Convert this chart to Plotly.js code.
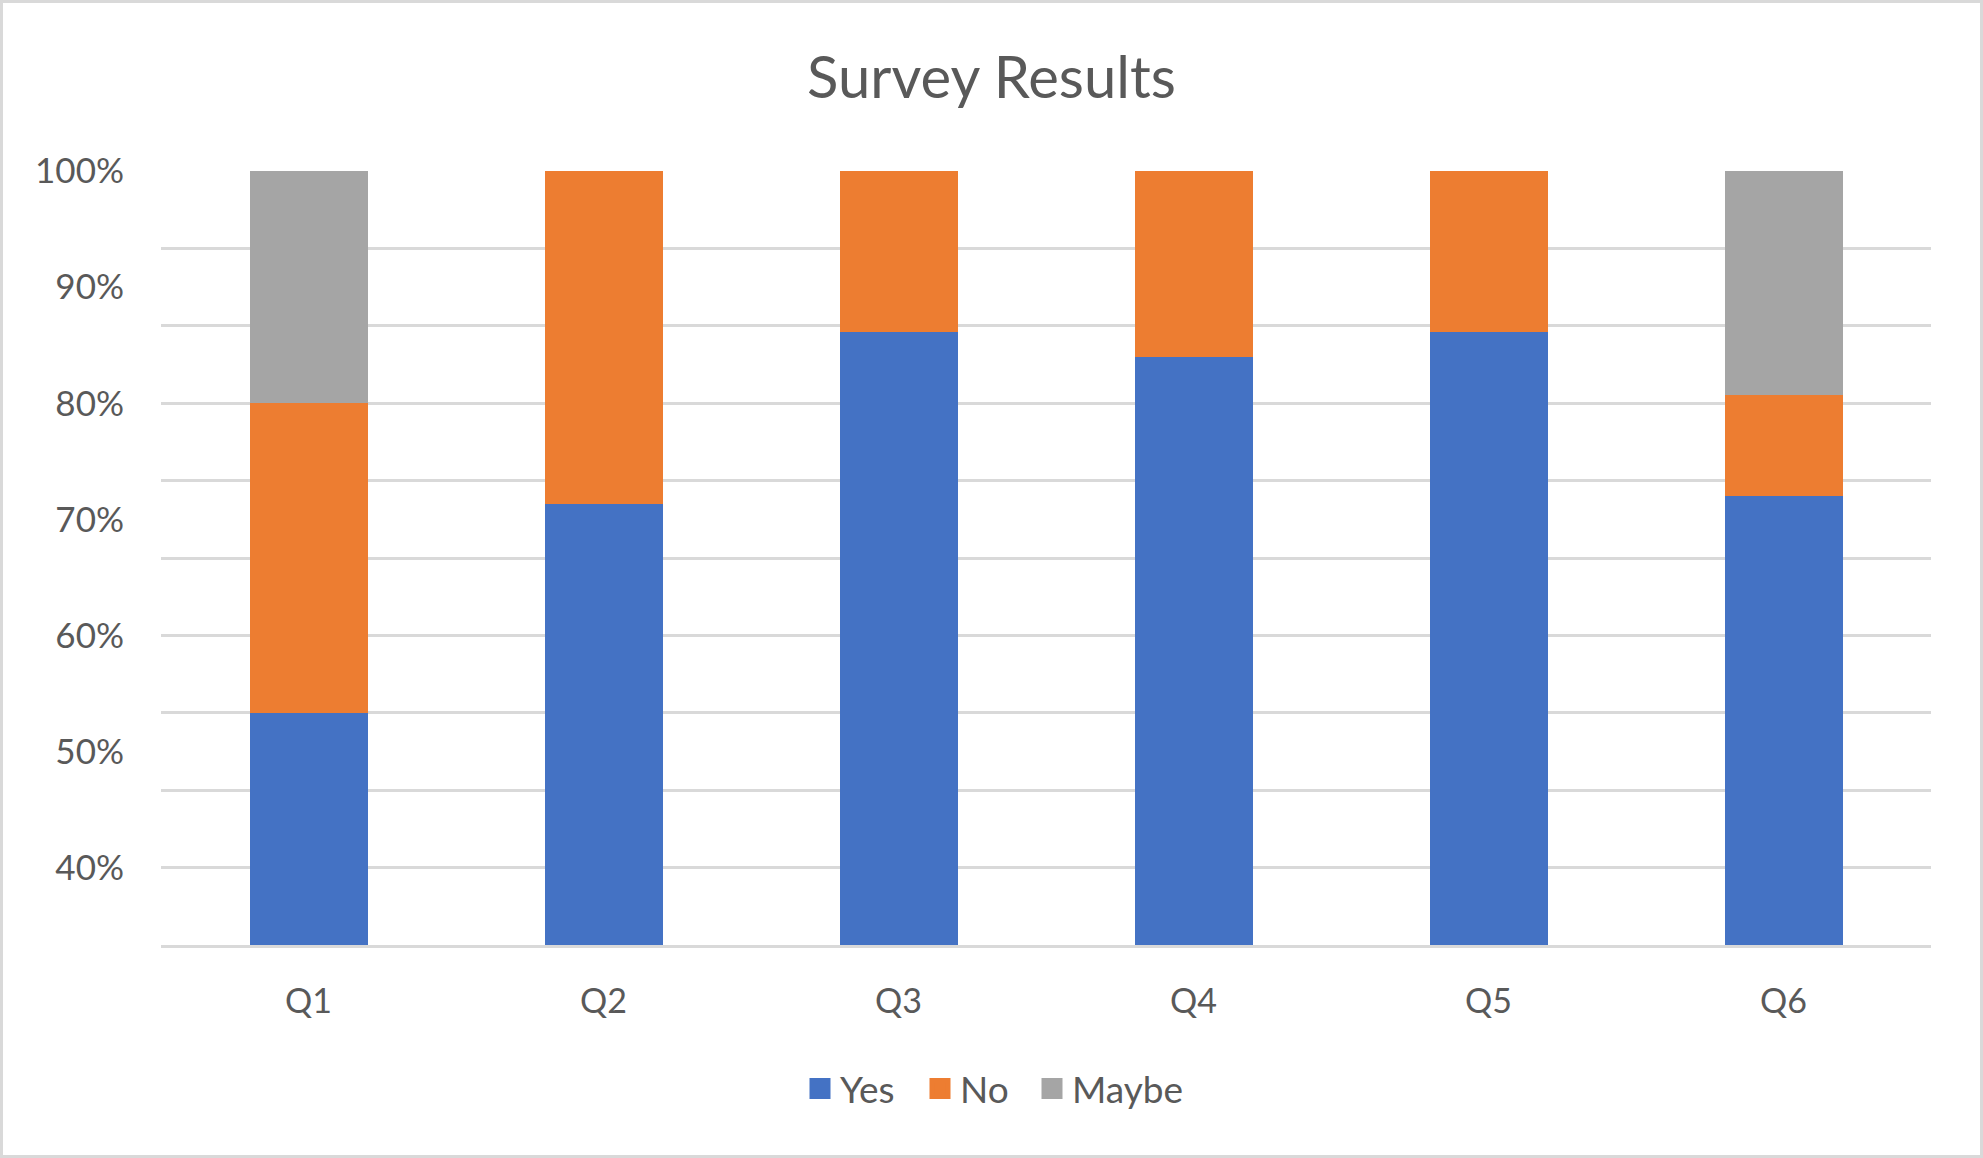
<!DOCTYPE html>
<html>
<head>
<meta charset="utf-8">
<script src="https://cdn.plot.ly/plotly-3.0.1.min.js"></script>
<style>
  html, body { margin: 0; padding: 0; background: #ffffff; }
  #wrap { position: relative; width: 1983px; height: 1158px; }
  #chart { width: 1983px; height: 1158px; }
  #frame { position: absolute; left: 0; top: 0; width: 1983px; height: 1158px;
           box-sizing: border-box; border: 3px solid #d9d9d9; pointer-events: none; }
</style>
</head>
<body>
<div id="wrap"><div id="chart"></div><div id="frame"></div></div>
<script>
// ---- data (percent of respondents) ----
const questions = ["Q1", "Q2", "Q3", "Q4", "Q5", "Q6"];
const yesVals   = [53.3, 71.3, 86.1, 84.0, 86.1, 72.0];
const noVals    = [26.7, 28.7, 13.9, 16.0, 13.9, 8.7];
const maybeVals = [20.0, 0.0, 0.0, 0.0, 0.0, 19.3];
const seriesNames = ["Yes", "No", "Maybe"];
const tickValues = [40, 50, 60, 70, 80, 90, 100];
const tickLabels = ["40%", "50%", "60%", "70%", "80%", "90%", "100%"];

// ---- styling ----
const colors = ["#4472C4", "#ED7D31", "#A5A5A5"];
const textColor = "#595959";
const gridColor = "#d9d9d9";
const fontFam = "Lato, 'Open Sans', sans-serif";
const yMin = 100 / 3, yMax = 100;
const legendX = [800, 920, 1032];   // pixel x of each legend entry
const legendNames = ["legend", "legend2", "legend3"];

// gridlines: 10 equal divisions of the visible range
const gridVals = [];
for (let k = 0; k <= 10; k++) gridVals.push(yMax - k * (yMax - yMin) / 10);

const seriesVals = [yesVals, noVals, maybeVals];
const traces = [];
seriesVals.forEach((vals, i) => {
  traces.push({
    type: "bar", x: questions, y: vals, name: seriesNames[i],
    marker: { color: colors[i] }, showlegend: false, hoverinfo: "x+y+name"
  });
});
// legend entries (larger square swatches), one legend box each
seriesNames.forEach((n, i) => {
  traces.push({
    type: "scatter", mode: "markers", x: [questions[0]], y: [null], name: n,
    legend: legendNames[i],
    marker: { symbol: "square", size: 16, color: colors[i], line: { color: colors[i], width: 5 } },
    showlegend: true, hoverinfo: "skip"
  });
});
// invisible trace carrying the labelled y axis
traces.push({ type: "scatter", x: [questions[0]], y: [null], yaxis: "y2", showlegend: false, hoverinfo: "skip" });

const layout = {
  width: 1983, height: 1158,
  paper_bgcolor: "#ffffff", plot_bgcolor: "#ffffff",
  margin: { l: 161, r: 52, t: 171, b: 213 },
  barmode: "stack", bargap: 0.6,
  font: { family: fontFam, color: textColor, size: 34 },
  title: {
    text: "Survey Results",
    font: { family: fontFam, size: 58, color: textColor },
    xref: "container", x: 0.5, xanchor: "center",
    yref: "container", y: 0.933, yanchor: "middle"
  },
  xaxis: {
    type: "category", showgrid: false, zeroline: false,
    showline: true, linecolor: gridColor, linewidth: 3,
    ticks: "", ticklabelstandoff: 24,
    tickfont: { family: fontFam, size: 34, color: textColor }
  },
  yaxis: {
    range: [yMin - 0.01, yMax + 0.01], tickmode: "array", tickvals: gridVals,
    showticklabels: false, ticks: "", showgrid: true, gridcolor: gridColor, gridwidth: 3,
    zeroline: false, showline: false, fixedrange: true
  },
  yaxis2: {
    overlaying: "y", side: "left", range: [yMin - 0.01, yMax + 0.01],
    tickmode: "array", tickvals: tickValues, ticktext: tickLabels,
    showgrid: false, zeroline: false, showline: false, ticks: "",
    ticklabelstandoff: 36,
    tickfont: { family: fontFam, size: 35, color: textColor }
  },
  showlegend: true
};
legendNames.forEach((ln, i) => {
  layout[ln] = {
    orientation: "h", xref: "container", x: legendX[i] / 1983, xanchor: "left",
    yref: "container", y: 1 - 1089 / 1158, yanchor: "middle",
    font: { family: fontFam, size: 37, color: textColor },
    itemsizing: "trace", bgcolor: "rgba(0,0,0,0)"
  };
});

Plotly.newPlot("chart", traces, layout, { displayModeBar: false, staticPlot: true });
</script>
</body>
</html>
